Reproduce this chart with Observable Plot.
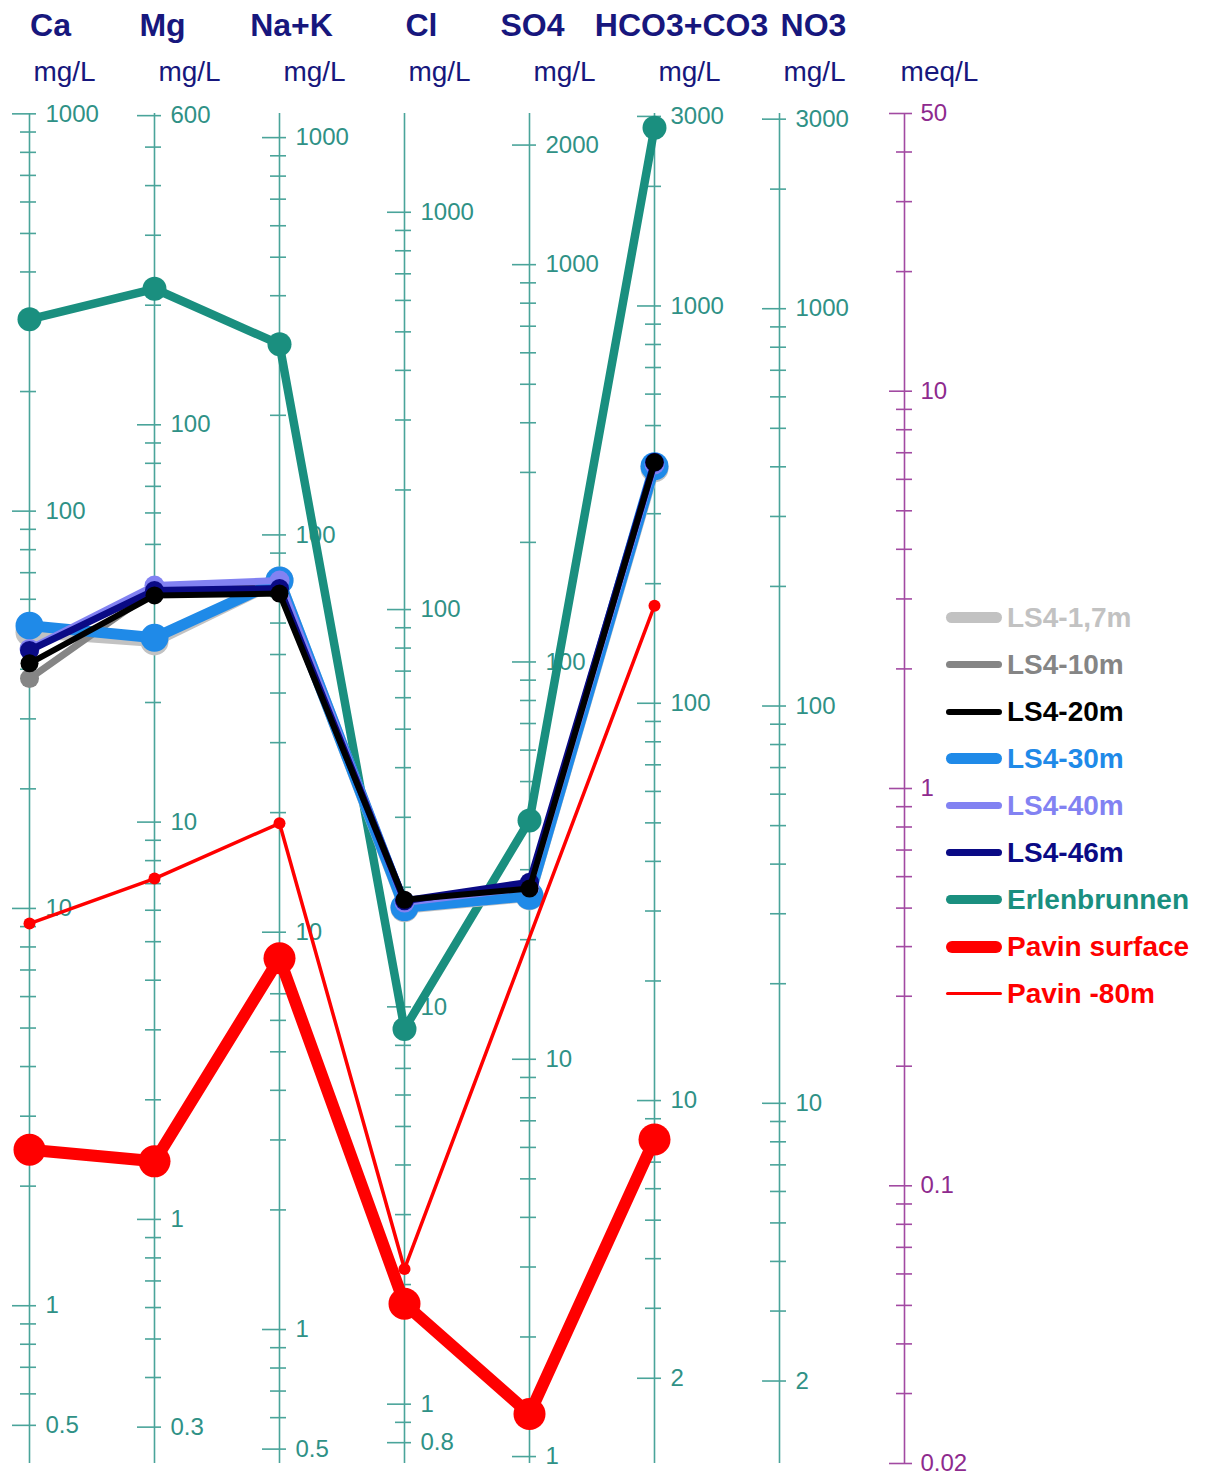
<!DOCTYPE html>
<html><head><meta charset="utf-8">
<script src="https://cdn.jsdelivr.net/npm/d3@7"></script>
<script src="https://cdn.jsdelivr.net/npm/@observablehq/plot@0.6"></script>
<style>
body{margin:0;background:#fff;font-family:"Liberation Sans",Arial,sans-serif;}
#wrap{position:relative;width:1211px;height:1475px;}
#legend{position:absolute;left:946px;top:594px;}
.row{display:flex;align-items:center;height:47px;}
.sw{width:56px;margin-right:5px;}
.lab{font-weight:bold;font-size:28px;white-space:nowrap;}
</style></head><body><div id="wrap"></div>
<script>
// ---- categories ----
const ions = ["Ca","Mg","Na+K","Cl","SO4","HCO3+CO3","NO3"];
const eqWeights = [20.04, 12.15, 23.0, 35.45, 48.03, 61.02, 62.0]; // mg per meq
const meqAxis = "meq/L";
const units = ["mg/L","mg/L","mg/L","mg/L","mg/L","mg/L","mg/L","meq/L"];
const meqDomain = [0.02, 50];

// ---- tick labels (mg/L per ion axis, then meq/L) ----
const labelsCa = [1000, 100, 10, 1, 0.5];
const labelsMg = [600, 100, 10, 1, 0.3];
const labelsNaK = [1000, 100, 10, 1, 0.5];
const labelsCl = [1000, 100, 10, 1, 0.8];
const labelsSO4 = [2000, 1000, 100, 10, 1];
const labelsHCO3 = [3000, 1000, 100, 10, 2];
const labelsNO3 = [3000, 1000, 100, 10, 2];
const labelsMeq = [50, 10, 1, 0.1, 0.02];

// ---- series (mg/L, order: Ca, Mg, Na+K, Cl, SO4, HCO3+CO3, NO3) ----
const seriesNames = ["LS4-1,7m","LS4-10m","LS4-20m","LS4-30m","LS4-40m","LS4-46m","Erlenbrunnen","Pavin surface","Pavin -80m"];
const ls4_1_7m   = [49.5, 28.5, 76.8, 17.7, 25.7, 390, null];
const ls4_10m    = [37.9, 38.3, 76.8, 18.2, 26.6, 399, null];
const ls4_20m    = [41.4, 37.2, 71.2, 18.6, 26.9, 404, null];
const ls4_30m    = [51.5, 29.1, 76.8, 17.8, 25.8, 395, null];
const ls4_40m    = [45.0, 39.4, 76.8, 18.3, 27.1, 399, null];
const ls4_46m    = [44.6, 38.3, 73.3, 18.5, 27.9, 404, null];
const erlen      = [304, 220, 302, 8.8, 39.9, 2810, null];
const pavinSurf  = [2.47, 1.40, 8.6, 1.79, 1.28, 7.98, null];
const pavin80    = [9.16, 7.21, 18.8, 2.19, null, 176, null];

// ---- styles (kept apart from data) ----
const teal = "#2f9186", tealAxis = "#4aa49a", purple = "#8e2a8e", purpleAxis = "#a24aa2", navyText = "#17177d";
const headerShift = {"Ca": 21, "Mg": 8, "Na+K": 12, "Cl": 17, "SO4": 3, "HCO3+CO3": 27, "NO3": 34};
const styles = {
  "LS4-1,7m":      {color:"#c2c2c2", w:11, r:14},
  "LS4-10m":       {color:"#858585", w:7,  r:9.5},
  "LS4-20m":       {color:"#000000", w:6,  r:9},
  "LS4-30m":       {color:"#1f8ae8", w:11, r:14},
  "LS4-40m":       {color:"#8282f2", w:7,  r:10},
  "LS4-46m":       {color:"#0a0a85", w:7,  r:9.5},
  "Erlenbrunnen":  {color:"#1a8f7f", w:8.5, r:12},
  "Pavin surface": {color:"#ff0000", w:12, r:16},
  "Pavin -80m":    {color:"#ff0000", w:3.5, r:6}
};
const drawOrder = ["Erlenbrunnen","LS4-1,7m","LS4-10m","LS4-30m","LS4-40m","LS4-46m","LS4-20m","Pavin surface","Pavin -80m"];

// ---- build tables ----
const seriesValues = [ls4_1_7m, ls4_10m, ls4_20m, ls4_30m, ls4_40m, ls4_46m, erlen, pavinSurf, pavin80];
const rows = [];
seriesNames.forEach((s, si) => {
  seriesValues[si].forEach((v, i) => {
    if (v != null) rows.push({series: s, ion: ions[i], mg: v, meq: v / eqWeights[i]});
  });
});

const axisLabels = [labelsCa, labelsMg, labelsNaK, labelsCl, labelsSO4, labelsHCO3, labelsNO3];
function logTicks(lo, hi) {
  const out = [];
  for (let k = -3; k <= 4; k++) for (let d = 1; d <= 9; d++) {
    const v = +(d * Math.pow(10, k)).toPrecision(6);
    if (v >= lo * (1 - 1e-9) && v <= hi * (1 + 1e-9)) out.push(v);
  }
  return out;
}
const majorTeal = [], minorTeal = [], majorPurple = [], minorPurple = [];
ions.forEach((ion, i) => {
  const w = eqWeights[i];
  const labs = axisLabels[i];
  logTicks(meqDomain[0] * w, meqDomain[1] * w).forEach(v => {
    const row = {axis: ion, meq: v / w, label: String(v)};
    (labs.includes(v) ? majorTeal : minorTeal).push(row);
  });
});
logTicks(meqDomain[0], meqDomain[1]).forEach(v => {
  const row = {axis: meqAxis, meq: v, label: String(v)};
  (labelsMeq.includes(v) ? majorPurple : minorPurple).push(row);
});

const cats = [...ions, meqAxis];
const font = "Liberation Sans, Arial, sans-serif";

const marks = [
  Plot.ruleX(ions, {x: d => d, y1: meqDomain[0], y2: meqDomain[1], stroke: tealAxis, strokeWidth: 1.6}),
  Plot.ruleX([meqAxis], {x: d => d, y1: meqDomain[0], y2: meqDomain[1], stroke: purpleAxis, strokeWidth: 1.6}),
  Plot.ruleY(minorTeal, {x1: "axis", x2: "axis", y: "meq", insetLeft: -9, insetRight: -7, stroke: tealAxis, strokeWidth: 1.6}),
  Plot.ruleY(majorTeal, {x1: "axis", x2: "axis", y: "meq", insetLeft: -17, insetRight: -7, stroke: tealAxis, strokeWidth: 1.6}),
  Plot.ruleY(minorPurple, {x1: "axis", x2: "axis", y: "meq", insetLeft: -8, insetRight: -8, stroke: purpleAxis, strokeWidth: 1.6}),
  Plot.ruleY(majorPurple, {x1: "axis", x2: "axis", y: "meq", insetLeft: -15, insetRight: -8, stroke: purpleAxis, strokeWidth: 1.6}),
  Plot.text(majorTeal, {x: "axis", y: "meq", text: "label", textAnchor: "start", dx: 16, fill: teal, fontSize: 24}),
  Plot.text(majorPurple, {x: "axis", y: "meq", text: "label", textAnchor: "start", dx: 16, fill: purple, fontSize: 24}),
  Plot.text(cats, {x: d => d, text: (d, i) => units[i], frameAnchor: "top", lineAnchor: "middle", dy: -41, dx: 35, fill: navyText, fontSize: 28})
];
// column headers
ions.forEach(ion => {
  marks.push(Plot.text([ion], {x: d => d, text: d => d, frameAnchor: "top", lineAnchor: "middle", dy: -88, dx: headerShift[ion], fill: navyText, fontSize: 32, fontWeight: "bold"}));
});
drawOrder.forEach(s => {
  const st = styles[s];
  const data = rows.filter(r => r.series === s);
  marks.push(Plot.line(data, {x: "ion", y: "meq", stroke: st.color, strokeWidth: st.w, strokeLinejoin: "round", strokeLinecap: "round"}));
  marks.push(Plot.dot(data, {x: "ion", y: "meq", r: st.r, fill: st.color, stroke: "none"}));
});

const chart = Plot.plot({
  width: 1211, height: 1475,
  marginTop: 113, marginBottom: 12, marginLeft: 27, marginRight: 306,
  x: {type: "point", domain: cats, padding: 0, axis: null},
  y: {type: "log", domain: meqDomain, axis: null},
  style: {fontFamily: font, background: "white", overflow: "visible"},
  marks
});
const wrap = document.getElementById("wrap");
wrap.appendChild(chart);

// legend
const legend = document.createElement("div");
legend.id = "legend";
seriesNames.forEach(s => {
  const st = styles[s];
  const row = document.createElement("div");
  row.className = "row";
  const sw = document.createElement("div");
  sw.className = "sw";
  sw.style.height = st.w + "px";
  sw.style.borderRadius = st.w + "px";
  sw.style.background = st.color;
  const lab = document.createElement("span");
  lab.className = "lab";
  lab.style.color = st.color;
  lab.textContent = s;
  row.appendChild(sw); row.appendChild(lab);
  legend.appendChild(row);
});
wrap.appendChild(legend);
</script></body></html>
